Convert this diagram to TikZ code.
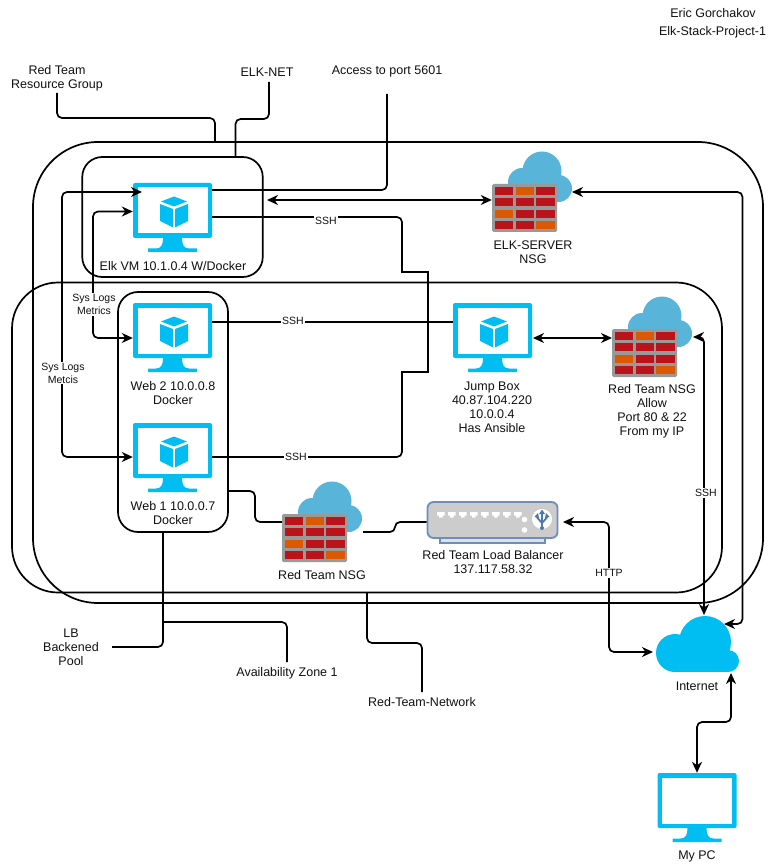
\documentclass[tikz,border=0pt]{standalone}
\usepackage{fontspec}
\setmainfont{Liberation Sans}
\usetikzlibrary{arrows.meta}
\definecolor{azure}{HTML}{00BEF2}
\definecolor{nsgblue}{HTML}{59B4D9}
\definecolor{brickred}{HTML}{BA141A}
\definecolor{brickor}{HTML}{DD5900}
\definecolor{brickgr}{HTML}{999999}
\definecolor{lbedge}{HTML}{6C8EBF}
\definecolor{lbfill}{HTML}{CCCCCC}
\definecolor{lbsym}{HTML}{4F77AE}
\definecolor{ink}{HTML}{111111}
\newcommand{\bigfont}{\fontsize{12.5}{14}\selectfont}
\newcommand{\smallfont}{\fontsize{10.5}{13}\selectfont}
\tikzset{
  x=1pt,y=-1pt,
  >={Stealth[length=11pt,width=10pt,inset=3.5pt]},
  zone/.style={draw=black,line width=1.7pt,fill=none,inner sep=0pt},
  conn/.style={draw=black,line width=1.7pt,rounded corners=5pt},
  lbl/.style={font=\bigfont,align=center,text=ink,inner sep=0pt},
  tag/.style={font=\smallfont,align=center,text=ink,fill=white,inner sep=1pt},
  pics/monitor/.style={code={
    \fill[azure,rounded corners=2pt] (0,0) rectangle (79,55);
    \fill[white] (4.5,4.5) rectangle (74.5,50.5);
    \fill[azure] (30,55) -- (49,55) .. controls (49,62) and (51,65.5) .. (56,65.5) -- (64,65.5) -- (64,69) -- (15,69) -- (15,65.5) -- (23,65.5) .. controls (28,65.5) and (30,62) .. (30,55) -- cycle;
  }},
  pics/cube/.style={code={
    \fill[azure] (0,-15.5) -- (13,-10.5) -- (0,-5.5) -- (-13,-10.5) -- cycle;
    \fill[azure] (-14,-8) -- (-1,-3) -- (-1,15.5) -- (-14,9) -- cycle;
    \fill[azure] (14,-8) -- (1,-3) -- (1,15.5) -- (14,9) -- cycle;
  }},
  pics/firewall/.style={code={
    \fill[nsgblue] (50,-13) circle (19.5);
    \fill[nsgblue] (30,-2) circle (14);
    \fill[nsgblue] (66.5,4.5) circle (13.5);
    \fill[nsgblue] (30,0) rectangle (66,18);
    \fill[brickgr,rounded corners=1.5pt] (0,0) rectangle (65,48);
    \foreach \c/\r/\k in {0/0/brickred,1/0/brickor,2/0/brickred,
                          0/1/brickred,1/1/brickred,2/1/brickred,
                          0/2/brickor,1/2/brickred,2/2/brickred,
                          0/3/brickred,1/3/brickred,2/3/brickor}
      \fill[\k] ({2.8+\c*20.8},{2.8+\r*11.4}) rectangle ({2.8+\c*20.8+18.6},{2.8+\r*11.4+8.2});
  }}
}
\begin{document}
\begin{tikzpicture}
\useasboundingbox (0,0) rectangle (775,866);
\fill[white] (0,0) rectangle (775,866);

% zones
\node[zone,rounded corners=65pt,minimum width=730pt,minimum height=461pt] (rg) at (398,372.5) {};
\node[zone,rounded corners=46pt,minimum width=710pt,minimum height=310pt] (net) at (367,437.5) {};
\node[zone,rounded corners=20pt,minimum width=180.5pt,minimum height=120pt] (elknet) at (172.5,217) {};
\node[zone,rounded corners=20pt,minimum width=110pt,minimum height=240pt] (zone1) at (173,412) {};

% monitors
\pic at (133,183) {monitor}; \pic at (174,212) {cube};
\node[inner sep=0pt,minimum width=79pt,minimum height=55pt] (elk) at (172.5,210.5) {};
\pic at (133,303) {monitor}; \pic at (174,332) {cube};
\node[inner sep=0pt,minimum width=79pt,minimum height=55pt] (web2) at (172.5,330.5) {};
\pic at (133,423) {monitor}; \pic at (174,452) {cube};
\node[inner sep=0pt,minimum width=79pt,minimum height=55pt] (web1) at (172.5,450.5) {};
\pic at (453,303) {monitor}; \pic at (494,332) {cube};
\node[inner sep=0pt,minimum width=79pt,minimum height=55pt] (jump) at (492.5,330.5) {};
\pic at (657.5,773) {monitor};
\node[inner sep=0pt,minimum width=79pt,minimum height=55pt] (pc) at (697,800.5) {};

% firewalls
\pic at (492,184) {firewall};
\node[inner sep=0pt,minimum width=65pt,minimum height=48pt] (elknsg) at (524.5,208) {};
\pic at (612,329) {firewall};
\node[inner sep=0pt,minimum width=65pt,minimum height=48pt] (rtallow) at (644.5,353) {};
\pic at (282,514) {firewall};
\node[inner sep=0pt,minimum width=65pt,minimum height=48pt] (rtnsg) at (314.5,538) {};

% load balancer
\fill[lbfill!60!white,draw=lbedge,line width=1.5pt] (440,537) rectangle (545,543);
\node[draw=lbedge,fill=lbfill,line width=1.8pt,rounded corners=6pt,inner sep=0pt,minimum width=130pt,minimum height=36pt] (lb) at (492.5,520) {};
\foreach \i in {0,...,7}
  \fill[white] ({437+\i*11},512) rectangle ({444.5+\i*11},515.5) ({439+\i*11},515.5) rectangle ({442.5+\i*11},517.5);
\fill[white] (524.5,519.5) circle (2.8) (524.5,530) circle (2.8);
\fill[white] (542,519) circle (10);
\draw[lbsym,line width=1.8pt] (542,526) -- (542,513) (536.5,515) .. controls (537,520) and (541,520) .. (542,523) .. controls (543,520) and (547,520) .. (547.5,515);
\fill[lbsym] (542,509.5) -- (545,514) -- (539,514) -- cycle (534.5,517) -- (538,513) -- (539,518) -- cycle (549.5,517) -- (546,513) -- (545,518) -- cycle;
\fill[lbsym] (542,528) circle (2);

% internet cloud
\fill[azure] (705,642) circle (26) (675,653) circle (19) (728,661) circle (11);
\fill[azure] (675,650) rectangle (728,672);
\node[inner sep=0pt,minimum width=83pt,minimum height=56pt] (inet) at (697.5,644) {};

% free ends
\coordinate (rgend) at (57,93);
\coordinate (elkend) at (269,82);
\coordinate (accessend) at (387,94);
\coordinate (lbpoolend) at (112,647);
\coordinate (azend) at (287,662);
\coordinate (rtnend) at (422,692);
\coordinate (azjoin) at (163,622);

% connectors
\draw[conn] (rgend) -- (57,118) -- (215,118) -- (215,142);
\draw[conn] (elkend) -- (269,119) -- (235.5,119) -- (235.5,157);
\draw[conn] (accessend) -- (387,190) -- ([yshift=20.5pt]elk.east);
\draw[conn,<->] (267,200) -- (elknsg.west |- 0,200);
\draw[conn] ([yshift=-6.5pt]elk.east) -- (402,217) [sharp corners] -- (402,272) -- (428,272) -- (428,372) -- (402,372) [rounded corners=5pt] -- (402,457) -- ([yshift=-6.5pt]web1.east);
\draw[conn] ([yshift=8.5pt]web2.east) -- ([yshift=8.5pt]jump.west);
\draw[conn,<->] ([yshift=-1pt]elk.west) -- (93,211.5) -- (93,338) -- ([yshift=-7.5pt]web2.west);
\draw[conn,<->] (142,192) -- (62,192) -- (62,457) -- ([yshift=-6.5pt]web1.west);
\draw[conn,<->] (533,338) -- (612,338);
\draw[conn] (zone1.east |- 0,491) -- (255,491) -- (255,522) -- (rtnsg.west |- 0,522);
\draw[conn] (363,532) -- (395,532) -- (395,522) -- (lb.west |- 0,522);
\draw[conn,<->] (563,522) -- (609,522) -- (609,652) -- (653,652);
\draw[conn,<->] (693,337) -- (704,337) -- (704,615);
\draw[conn,<->] (572,192) -- (742.5,192) -- (742.5,624) -- (724,624);
\draw[conn,<->] (731,673) -- (731,722) -- (697,722) -- (pc.north);
\draw[conn] ([xshift=-10pt]zone1.south) -- (163,647) -- (lbpoolend);
\draw[conn] (azjoin) -- (287,622) -- (azend);
\draw[conn] (367,592) -- (367,643) -- (422,643) -- (rtnend);

% labels
\node[lbl] (author) at (713,13) {Eric Gorchakov};
\node[lbl] (project) at (712.5,32) {Elk-Stack-Project-1};
\node[lbl] (rglbl) at (57,78) {Red Team\\Resource Group};
\node[lbl] (elkneta) at (267,72.5) {ELK-NET};
\node[lbl] (access) at (387,71) {Access to port 5601};
\node[lbl] (elkvm) at (173,266) {Elk VM 10.1.0.4 W/Docker};
\node[lbl] (web2l) at (173,393) {Web 2 10.0.0.8\\Docker};
\node[lbl] (web1l) at (173,513) {Web 1 10.0.0.7\\Docker};
\node[lbl] (jumpl) at (492,407) {Jump Box\\40.87.104.220\\10.0.0.4\\Has Ansible};
\node[lbl] (elknsgl) at (533,252.5) {ELK-SERVER\\NSG};
\node[lbl] (allowl) at (652,411) {Red Team NSG\\Allow\\Port 80 \& 22\\From my IP};
\node[lbl] (rtnsgl) at (322,575.5) {Red Team NSG};
\node[lbl] (lbl1) at (493,562.5) {Red Team Load Balancer\\137.117.58.32};
\node[lbl] (inetl) at (697,686) {Internet};
\node[lbl] (pcl) at (697,856) {My PC};
\node[lbl] (pool) at (71,647) {LB\\Backened\\Pool};
\node[lbl] (az) at (287,673) {Availability Zone 1};
\node[lbl] (rtn) at (422,702.5) {Red-Team-Network};
\node[tag] (ssh1) at (326,221) {SSH};
\node[tag] (ssh2) at (293,321) {SSH};
\node[tag] (ssh3) at (296,456.5) {SSH};
\node[tag] (ssh4) at (706,493) {SSH};
\node[tag] (http) at (609,573) {HTTP};
\node[tag] (sys1) at (94,304.5) {Sys Logs\\Metrics};
\node[tag] (sys2) at (63,373) {Sys Logs\\Metcis};
\end{tikzpicture}
\end{document}
